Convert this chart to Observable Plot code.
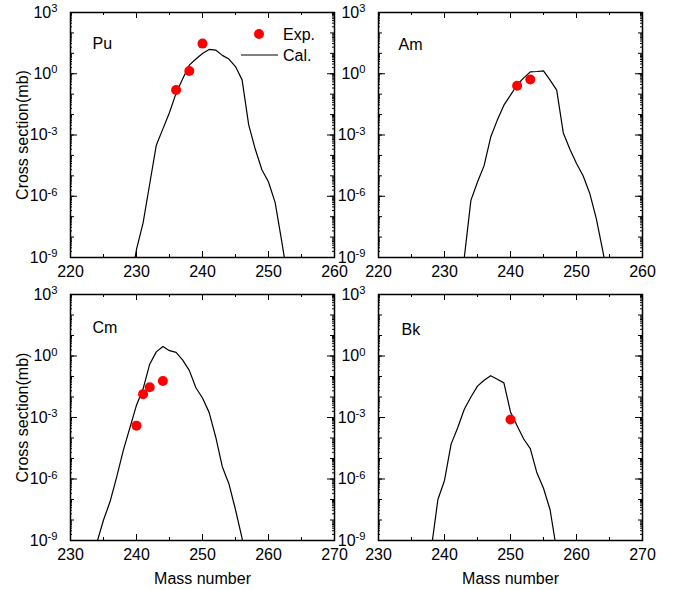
<!DOCTYPE html>
<html><head><meta charset="utf-8">
<script src="https://cdn.jsdelivr.net/npm/d3@7"></script>
<script src="https://cdn.jsdelivr.net/npm/@observablehq/plot@0.6"></script>
<style>
body{margin:0;background:#fff;}
#wrap{position:relative;width:681px;height:590px;font-family:"Liberation Sans",Arial,sans-serif;}
.panel{position:absolute;}
#legend{position:absolute;left:0;top:0;pointer-events:none;}
</style></head><body><div id="wrap"></div>
<script>
// ---- data (mass number, log10 cross section in mb for calc; mb for exp) ----
const elements = ["Pu", "Am", "Cm", "Bk"];
const xDomainTop = [220, 260];
const xDomainBottom = [230, 270];
const xTicksTop = [220, 230, 240, 250, 260];
const xTicksBottom = [230, 240, 250, 260, 270];
const yTickExponents = [3, 0, -3, -6, -9];

const puCal = [[229,-10.5],[230,-8.6],[231,-7.3],[232,-5.4],[233,-3.5],[234,-2.7],[235,-1.9],[236,-0.95],[237,-0.25],[238,0.42],[239,0.72],[240,0.99],[241,1.19],[242,1.16],[243,0.9],[244,0.72],[245,0.35],[246,-0.3],[247,-2.5],[248,-3.7],[249,-4.7],[250,-5.3],[251,-6.3],[252,-8.2],[253,-10.2]];
const puExp = [[236,0.16],[238,1.35],[240,30]];

const amCal = [[232,-11],[233,-9.0],[234,-6.2],[235,-5.3],[236,-4.5],[237,-3.1],[238,-2.27],[239,-1.54],[240,-1.05],[241,-0.55],[242,-0.2],[243,0.09],[244,0.11],[245,0.14],[246,-0.31],[247,-0.8],[248,-2.9],[249,-3.7],[250,-4.4],[251,-5.0],[252,-5.85],[253,-7.1],[254,-8.7],[255,-10.5]];
const amExp = [[241,0.26],[243,0.52]];

const cmCal = [[233,-11],[234,-9.1],[235,-8.0],[236,-7.1],[237,-5.9],[238,-4.6],[239,-3.5],[240,-2.4],[241,-1.6],[242,-0.4],[243,0.2],[244,0.46],[245,0.26],[246,0.18],[247,-0.2],[248,-0.7],[249,-1.55],[250,-2.05],[251,-2.75],[252,-3.95],[253,-5.4],[254,-6.23],[255,-7.5],[256,-8.9],[257,-11]];
const cmExp = [[240,0.0004],[241,0.0138],[242,0.03],[244,0.06]];

const bkCal = [[237,-12],[238,-9.4],[239,-7.0],[240,-6.07],[241,-4.3],[242,-3.5],[243,-2.6],[244,-2.0],[245,-1.47],[246,-1.18],[247,-0.96],[248,-1.13],[249,-1.31],[250,-2.73],[251,-3.4],[252,-4.05],[253,-4.52],[254,-5.7],[255,-6.45],[256,-7.5],[257,-9.5]];
const bkExp = [[250,0.0008]];

const yLabel = "Cross section(mb)";
const xLabel = "Mass number";
const legendLabels = ["Exp.", "Cal."];

// ---- drawing ----
const wrap = document.getElementById("wrap");
const FONT = "'Liberation Sans', Arial, sans-serif";
const decadeExps = d3.range(-9, 4);
const yMajor = yTickExponents.map(e => 10 ** e);
const yDecade = decadeExps.map(e => 10 ** e);
const ySub = [];
decadeExps.slice(0, -1).forEach(e => { for (let m = 2; m <= 9; m++) ySub.push(m * 10 ** e); });

function panel({name, cal, exp, xDomain, xTicks, left, top, marginTop, height, marginBottom, showY, showX, dx, dy}) {
  const width = 340, marginLeft = 70, marginRight = 6;
  const W = width - marginLeft - marginRight;
  const H = height - marginTop - marginBottom;
  const xMinor = xTicks.slice(0, -1).map(d => d + 5);
  const id = d => d;
  const marks = [
    Plot.frame({stroke: "black", strokeWidth: 1.5}),
    // inward ticks
    Plot.tickX(xTicks, {x: id, insetTop: H - 6, stroke: "black"}),
    Plot.tickX(xTicks, {x: id, insetBottom: H - 6, stroke: "black"}),
    Plot.tickX(xMinor, {x: id, insetTop: H - 3, stroke: "black"}),
    Plot.tickX(xMinor, {x: id, insetBottom: H - 3, stroke: "black"}),
    Plot.tickY(yMajor, {y: id, insetRight: W - 7, stroke: "black"}),
    Plot.tickY(yMajor, {y: id, insetLeft: W - 7, stroke: "black"}),
    Plot.tickY(yDecade, {y: id, insetRight: W - 4, stroke: "black"}),
    Plot.tickY(yDecade, {y: id, insetLeft: W - 4, stroke: "black"}),
    Plot.tickY(ySub, {y: id, insetRight: W - 2, stroke: "black"}),
    Plot.tickY(ySub, {y: id, insetLeft: W - 2, stroke: "black"}),
    Plot.axisX({ticks: xTicks, tickSize: 0, tickPadding: 8, tickFormat: d => String(d),
      label: showX ? xLabel : null, labelAnchor: "center", labelArrow: "none", labelOffset: 43}),
    Plot.axisY({ticks: yMajor, tickSize: 0, tickPadding: 13, tickFormat: d => "10^" + Math.round(Math.log10(d)),
      label: showY ? yLabel : null, labelAnchor: "center", labelArrow: "none", labelOffset: 54}),
    Plot.line(cal, {x: d => d[0], y: d => 10 ** d[1], stroke: "black", strokeWidth: 1.2, clip: true}),
    Plot.dot(exp, {x: d => d[0], y: d => d[1], r: 5, fill: "#ff0000"}),
    Plot.text([name], {frameAnchor: "top-left", text: d => d, dx, dy, textAnchor: "start", lineAnchor: "middle", fontSize: 16, fill: "black"})
  ];
  const svg = Plot.plot({
    width, height, marginLeft, marginRight, marginTop, marginBottom,
    style: {fontSize: "16px", fontFamily: FONT, background: "transparent", color: "black", overflow: "visible"},
    x: {domain: xDomain},
    y: {type: "log", domain: [1e-9, 1e3]},
    marks
  });
  svg.classList.add("panel");
  svg.style.left = left + "px";
  svg.style.top = top + "px";
  // superscripts on y tick labels
  svg.querySelectorAll('g[aria-label="y-axis tick label"] text').forEach(t => {
    const s = t.textContent;
    if (!s.includes("^")) return;
    const [b, e] = s.split("^");
    t.textContent = b;
    const ts = document.createElementNS("http://www.w3.org/2000/svg", "tspan");
    ts.setAttribute("dy", "-0.5em");
    ts.setAttribute("font-size", "0.7em");
    ts.textContent = e;
    t.appendChild(ts);
  });
  wrap.appendChild(svg);
}

panel({name: elements[0], cal: puCal, exp: puExp, xDomain: xDomainTop, xTicks: xTicksTop, left: 0, top: 0, marginTop: 12, height: 290, marginBottom: 33, showY: true, showX: false, dx: 22, dy: 31});
panel({name: elements[1], cal: amCal, exp: amExp, xDomain: xDomainTop, xTicks: xTicksTop, left: 308, top: 0, marginTop: 12, height: 290, marginBottom: 33, showY: false, showX: false, dx: 20, dy: 32});
panel({name: elements[2], cal: cmCal, exp: cmExp, xDomain: xDomainBottom, xTicks: xTicksBottom, left: 0, top: 282, marginTop: 12, height: 308, marginBottom: 50, showY: true, showX: true, dx: 22, dy: 33});
panel({name: elements[3], cal: bkCal, exp: bkExp, xDomain: xDomainBottom, xTicks: xTicksBottom, left: 308, top: 282, marginTop: 12, height: 308, marginBottom: 50, showY: false, showX: true, dx: 23, dy: 35});

// legend (inside Pu panel)
const ns = "http://www.w3.org/2000/svg";
const lg = document.createElementNS(ns, "svg");
lg.setAttribute("id", "legend");
lg.setAttribute("width", 681); lg.setAttribute("height", 590);
lg.style.fontFamily = FONT; lg.style.fontSize = "16px";
lg.innerHTML = `
  <circle cx="259" cy="34" r="5" fill="#ff0000"></circle>
  <text x="283" y="34" dy="0.35em" fill="black">${legendLabels[0]}</text>
  <line x1="241" x2="278" y1="55" y2="55" stroke="black" stroke-width="1.2"></line>
  <text x="283" y="55" dy="0.35em" fill="black">${legendLabels[1]}</text>`;
wrap.appendChild(lg);
</script>
</body></html>
